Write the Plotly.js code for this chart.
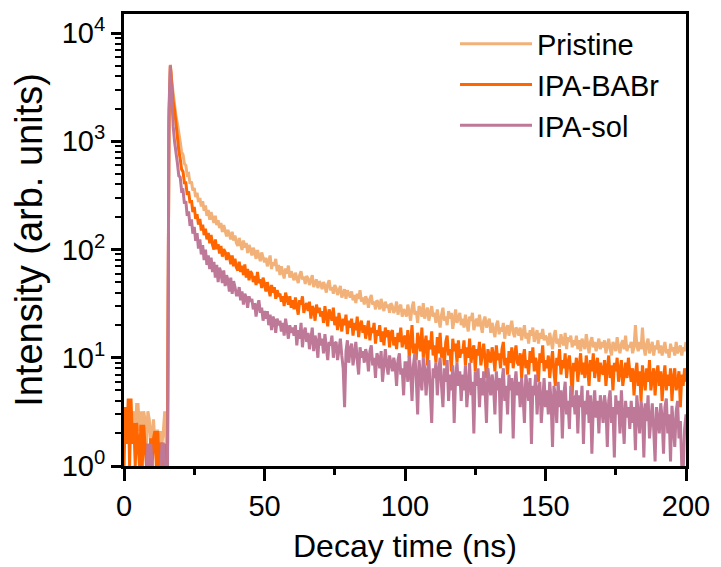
<!DOCTYPE html>
<html>
<head>
<meta charset="utf-8">
<script src="https://cdn.plot.ly/plotly-3.0.1.min.js"></script>
<style>html,body{margin:0;padding:0;background:#fff}#chart{width:721px;height:567px}</style>
</head>
<body>
<div id="chart"></div>
<script>
// time channels: 0 to 200 ns, 0.5 ns per channel
var timeStart = 0;
var timeStep = 0.5;

var seriesNames = ["Pristine", "IPA-BABr", "IPA-sol"];

var yTickVals = [1, 10, 100, 1000, 10000];
var yTickText = ["10<sup>0</sup>", "10<sup>1</sup>", "10<sup>2</sup>", "10<sup>3</sup>", "10<sup>4</sup>"];
var xTickVals = [0, 50, 100, 150, 200];
var xTickText = ["0", "50", "100", "150", "200"];

var pristine = [
2.7,1.6,3.2,2.1,3.2,1.6,2.7,3.2,1.6,3.7,3.7,2.1,3.2,1.6,3.2,2.7,1.6,3.2,2.7,1.6,2.1,2.7,1.6,2.1,2.1,1.6,2.1,1.6,2.1,3.2,1.6,3.4,
1200,5100,
3600,2750,2300,1700,1460,1120,990,800,750,620,600,490,500,405,425,350,370,305,335,275,300,250,280,228,255,205,232,
188,222,196,176,205,168,186,158,176,145,168,150,132,152,140,124,146,121,135,115,
108,128,112,99,121,104,115,93,110,101,
88,104,95,82,99,90,78,94,84,76,
84,70,78,88,66,76,71,82,63,72,
58,70,62,54,67,60,71,55,63,58,
52,61,55,49,58,63,53,56,48,57,
54,47,52,58,45,50,53,44,51,48,
43,50,46,40,48,52,42,45,39,47,
44,38,41,46,36,40,43,35,42,39,
36,41,34,38,32,39,35,42,33,36,
31,37,34,29,35,38,31,33,28,34,
32,28,35,30,27,33,29,31,26,32,
30,26,28,33,25,29,31,24,28,27,
24,31,26,22,29,33,25,27,21,30,28,24,32,23,26,29,22,27,30,24,
26,21,28,23,19,25,29,22,24,20,27,23,26,18.5,24,28,21,23,26,20,
23,19,25,21,17.5,24,22,26,18,21,23,19.5,25,20,17,22,24,19,21,23,
17,21,18,15.5,20,22,16.5,19,17.5,21,15,18.5,20,16,19,22,17,15.5,19,18,
16,19,14.5,17.5,20,15,17,13.5,18,16,19,14,16.5,18,13.5,17,15,18.5,14.5,16,
15,13,17,14,12,16,18,13.5,15,12.5,16.5,14,13,17,12,15.5,14,16,12.5,14.5,
13,16,12,14.5,11.5,15,13.5,12,16.5,13,11,14,15.5,12.5,14,11.5,13.5,15,12,14,
12.5,14.5,11,13,15,12,10.5,14,13,11.5,15.5,12.5,11,13.5,14.5,12,16,11.5,13,12.5,
14,11,12.5,20,13,11.5,14,12,19,12.5,10.5,13.5,15,11,12.5,14,10.5,13,12,14.5,
11,13,10.5,12.5,14,11,12,10,13.5,11.5,12.5,10.5,14,11,12,13,10.5,12.5,11.5,14
];

var ipaBABr = [
1,3.5,1.6,4.2,1,4.2,1.6,2.5,1,2.5,1.6,1,2.4,1,2.4,1.6,1,1.6,1,1.8,1,1.8,2.1,1,2.1,1,1.6,1.6,1,1.6,1,1.6,
1500,5000,
3200,2350,1950,1430,1190,820,690,550,525,415,415,320,345,268,285,222,248,192,212,170,192,150,170,136,156,124,142,
114,136,110,100,124,101,112,92,108,86,101,95,80,94,86,73,88,70,82,68,
64,77,62,71,58,73,55,66,52,63,
60,50,57,47,62,49,53,44,55,48,
41,50,43,37,47,40,45,35,42,38,
39,33,37,30,40,34,31,37,29,34,
28,36,30,25,34,31,37,26,30,32,
27,33,23,30,28,22,31,26,29,24,
27,21,30,24,19.5,28,25,22,29,20,
24,18,26,21,17.5,23,20,25,16.5,22,
19,23,16,21,18,24,15.5,20,22,17,
20,15,18,22,14.5,19,17,21,13.5,18,
16,20,14,17.5,13,19,15.5,18,12.5,17,
18,13,15.5,12,17,14,19,12.5,15,16,
12,18,10,15,20,11,13.5,9.5,17,14,11.5,19,10,13,16,8.5,14.5,12,17.5,10.5,
13,9,15.5,11,17,10,12.5,8.5,14,16,10.5,12,7.5,15,11.5,13.5,9,14.5,10,12,
11,14.5,8.5,12.5,10,15,9,11.5,13,7.5,12,10.5,14,8.5,11,13.5,9.5,6.5,12,10,
9,12.5,10.5,7.5,13,9.5,11,8,12,14,8.5,10,7,11.5,9,12.5,8,10.5,13,9,
8.5,11,6.5,10,12,8,9.5,7,11.5,9,12.5,7.5,10,8.5,6,11,9,13,7.5,9.5,
8,10.5,6.5,9,11.5,7.5,5.5,10,8.5,12,7,9.5,8,11,6.5,9,10.5,7.5,4.5,9,
7.5,10,6,8.5,11,7,9,6.5,10.5,8,5.5,9.5,7.5,11,6.5,8.5,10,6,9,7.5,
7,9.5,5.5,8,10.5,6.5,8.5,5,9,7.5,10,6,8,9.5,5.5,7,9,6.5,10,7.5,
6,8,4.5,7,9,5.5,7.5,4,8.5,6.5,5,8,6,9.5,5,6.5,8,4.5,7,8.5,
5.5,7.5,4,6.5,8.5,5,7,5.5,8,4,6.5,8,5,6,7.5,3.5,7,5.5,8,6
];

var ipaSol = [
0.7,0.7,1,0.7,0.7,0.7,1,0.7,0.7,0.7,0.7,1,0.7,0.7,0.7,0.7,0.7,1.6,1,1.6,1,0.7,0.7,0.7,0.7,0.7,0.7,1.6,1.6,1,0.7,1,
2000,5000,
2300,1380,990,730,630,480,465,350,355,265,280,205,225,165,190,140,162,120,142,102,124,90,110,80,100,72,88,
66,84,62,77,55,72,50,68,61,49,64,46,58,52,41,55,39,51,45,38,
38,45,34,41,31,39,36,29,37,33,
35,28,32,24,30,34,26,29,22,27,
23,27,20,25,18,24,22,17,23,20,
22,17.5,21,16,23,18.5,15,20,17,19,
16,20,13,18,15,21,12.5,17,19,14,
17,12,15.5,19,11.5,16,14,10,17,13,
15,11,16.5,12.5,9.5,14,13,16,10,13.5,
14,9.5,12,15,10.5,8,3.5,11.5,14.5,9,
12,13.5,8.5,11,14,9.5,7,12.5,10,11.5,
9,12,10.5,7.5,11.5,13,8.5,10,6.5,11,
10,8,11.5,6,9.5,12,8.5,7,10.5,9,
7.5,10,8.5,5.5,9.5,11,7,8,4.5,9,
9,6,10.5,7.5,4,8.5,11,6.5,3,9.5,7,5,10,8,4.5,7.5,9.5,5.5,2.5,8,
6.5,9,4.5,7.5,10,5.5,3.5,8,6,9.5,4,7,5,8.5,2.5,6.5,9,5.5,7.5,4,
7,5,8.5,3.5,6.5,9,4.5,6,2,7.5,5.5,8,3.5,6.5,4.5,7.5,5,2.5,8,6,
4.5,7,5.5,3,7.5,5,6.5,2,6,8,4,5.5,3,7,5,6.5,1.8,5.5,7.5,4.5,
6,3.5,6.5,4.5,2.5,7,5,4,6.5,1.6,5.5,4.5,7,3,5,6,2.5,4.5,6.5,3.5,
5,3,6,4,1.5,5.5,4.5,2.5,6,3.5,5,1.8,4.5,6,3,4,2.2,5.5,3.5,4.5,
3,5,2,4.5,3.5,5.5,1.6,4,3,5,2.5,4.5,1.3,3.5,5,2.8,4,2,4.5,3.5,
2.5,4.5,3.5,1.5,4,5,2.5,3.5,1.2,4.5,3,4,2,5,3,1.6,4,2.8,3.5,2.2,
4,2.5,3.5,1.4,4.5,3,2,4,3.2,1.2,3.8,2.6,4.5,1.8,3,3.8,2.2,1.1,3.5,2.8,
2,3.8,2.8,1.3,3.5,4.2,2,3,1.1,3.6,2.5,1.5,3.2,4,1.8,2.6,1,0.9,2.2,3
];

var colors = ["#F1B178", "#FF6600", "#BE7898"];
var series = [pristine, ipaBABr, ipaSol];

function timesFor(arr) {
  var t = [];
  for (var i = 0; i < arr.length; i++) t.push(timeStart + i * timeStep);
  return t;
}

var font = "Arial, 'Liberation Sans', sans-serif";
var traces = series.map(function (vals, k) {
  return {
    type: "scatter",
    mode: "lines",
    x: timesFor(vals),
    y: vals,
    name: seriesNames[k],
    line: {color: colors[k], width: 3},
    hoverinfo: "x+y+name"
  };
});

var minorY = [];
for (var d = 0; d < 4; d++) {
  for (var m = 2; m <= 9; m++) minorY.push(m * Math.pow(10, d));
}

var layout = {
  width: 721,
  height: 567,
  margin: {l: 124, r: 35, t: 14, b: 101},
  paper_bgcolor: "#ffffff",
  plot_bgcolor: "#ffffff",
  font: {family: font, color: "#000000", size: 28},
  showlegend: true,
  legend: {
    x: 0.589, y: 0.99, xanchor: "left", yanchor: "top",
    bgcolor: "rgba(0,0,0,0)",
    font: {family: font, size: 29, color: "#000"},
    itemwidth: 72,
    tracegroupgap: 0
  },
  xaxis: {
    range: [0, 200],
    tickmode: "array", tickvals: xTickVals, ticktext: xTickText,
    ticks: "outside", ticklen: 12, tickwidth: 2.5, tickcolor: "#000",
    minor: {tickmode: "linear", tick0: 0, dtick: 25, ticks: "outside", ticklen: 6, tickwidth: 2.5, tickcolor: "#000"},
    showline: true, linewidth: 3, linecolor: "#000", mirror: true,
    showgrid: false, zeroline: false,
    tickfont: {family: font, size: 29, color: "#000"},
    title: {text: "Decay time (ns)", font: {family: font, size: 32, color: "#000"}, standoff: 14}
  },
  yaxis: {
    type: "log",
    range: [0, 4.176],
    tickmode: "array", tickvals: yTickVals, ticktext: yTickText,
    ticks: "outside", ticklen: 10, tickwidth: 2.5, tickcolor: "#000",
    minor: {tickmode: "array", tickvals: minorY, ticks: "outside", ticklen: 6, tickwidth: 2, tickcolor: "#000"},
    showline: true, linewidth: 3, linecolor: "#000", mirror: true,
    showgrid: false, zeroline: false,
    tickfont: {family: font, size: 29, color: "#000"},
    title: {text: "Intensity (arb. units)", font: {family: font, size: 38, color: "#000"}, standoff: 8}
  }
};

Plotly.newPlot("chart", traces, layout, {displayModeBar: false});
</script>
</body>
</html>
